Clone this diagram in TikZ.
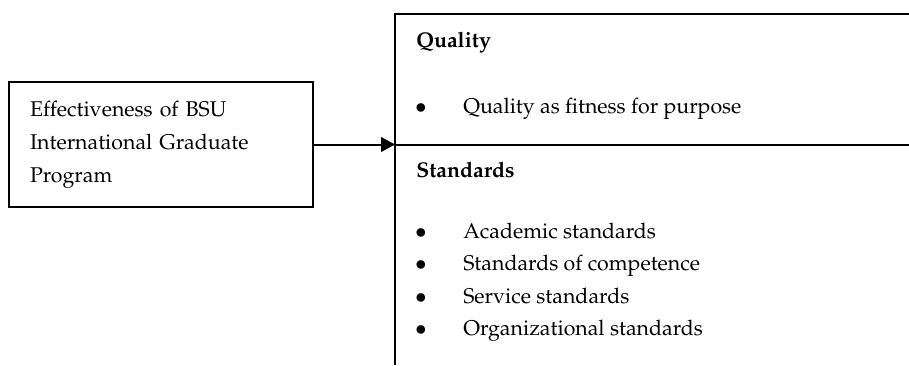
\documentclass[tikz,border=0pt]{standalone}
\usepackage[T1]{fontenc}
\usepackage{mathpazo}
\usepackage{tikz}
\usetikzlibrary{positioning}
\usetikzlibrary{arrows.meta}

\tikzset{
  progbox/.style={draw, line width=1.4pt, minimum width=228pt, minimum height=93.75pt,
    inner xsep=15.75pt, align=left, anchor=center, font=\fontsize{16}{24.75}\selectfont},
  head/.style={anchor=base west, inner sep=0pt, font=\fontsize{16}{19}\selectfont\bfseries},
  dot/.style={anchor=base, inner sep=0pt, font=\fontsize{16}{19}\selectfont},
  item/.style={anchor=base west, inner sep=0pt, font=\fontsize{16}{19}\selectfont},
}

\begin{document}
\begin{tikzpicture}[x=0.75pt, y=-0.75pt]
\useasboundingbox (0,0) rectangle (909,365);

% programme box
\node[progbox, text width=196.5pt] (prog) at (161,144.5) {Effectiveness of BSU\\International Graduate\\Program};

% frame on the right
\coordinate (topleft) at (395,14);
\coordinate (topright) at (909,14);
\coordinate (midleft) at (395,144.5);
\coordinate (midright) at (909,144.5);
\coordinate (bottomleft) at (395,365);

\draw [line width=1.5pt] (topright) -- (topleft) -- (bottomleft);
\draw [line width=1.5pt] (midleft) -- (midright);
\draw [line width=1.5pt, -{Triangle[length=10.5pt,width=11pt]}] (prog.east) -- (midleft);

% quality
\node[head] (quality) at (416,47) {Quality};
\node[dot] (b1) at (421,113) {$\bullet$};
\node[item] (q1) at (463,113) {Quality as fitness for purpose};

% standards
\node[head] (standards) at (416,177) {Standards};
\node[dot] (b2) at (421,238) {$\bullet$};
\node[item] (s1) at (463,238) {Academic standards};
\node[dot] (b3) at (421,270.5) {$\bullet$};
\node[item] (s2) at (463,270.5) {Standards of competence};
\node[dot] (b4) at (421,303) {$\bullet$};
\node[item] (s3) at (463,303) {Service standards};
\node[dot] (b5) at (421,335.5) {$\bullet$};
\node[item] (s4) at (463,335.5) {Organizational standards};
\end{tikzpicture}
\end{document}
